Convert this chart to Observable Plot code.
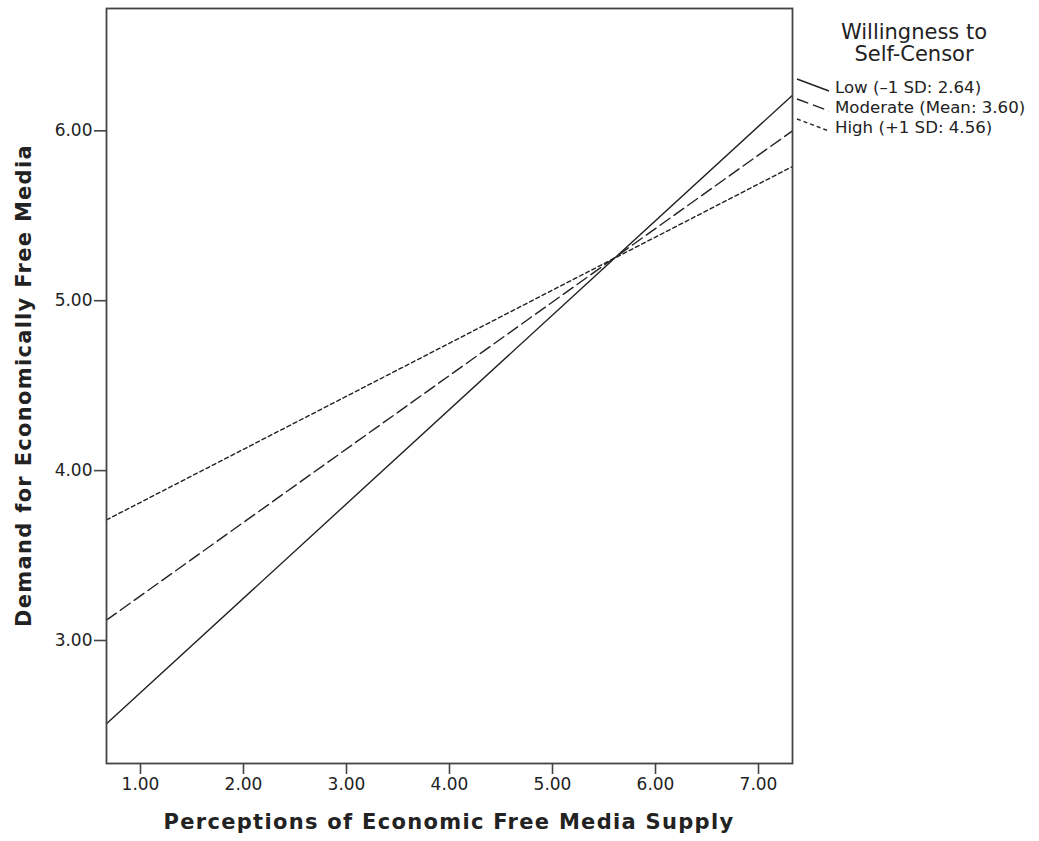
<!DOCTYPE html>
<html>
<head>
<meta charset="utf-8">
<script src="https://cdn.jsdelivr.net/npm/d3@7"></script>
<script src="https://cdn.jsdelivr.net/npm/@observablehq/plot@0.6"></script>
<style>
  html, body { margin: 0; padding: 0; background: #fff; }
  #chart { width: 1039px; height: 841px; }
</style>
</head>
<body>
<div id="chart"></div>
<script>
// Simple slopes: predicted demand at the low and high ends of perceived supply
const supply = [0.67, 7.33];
const lowCensor = [2.51, 6.21];
const moderateCensor = [3.12, 6.00];
const highCensor = [3.71, 5.79];

const seriesNames = ["Low (–1 SD: 2.64)", "Moderate (Mean: 3.60)", "High (+1 SD: 4.56)"];
const seriesDash = ["none", "12,5", "4,3"];
const legendTitle = ["Willingness to", "Self-Censor"];

const xTicks = [1, 2, 3, 4, 5, 6, 7];
const yTicks = [3, 4, 5, 6];
const yDomain = [2.276, 6.72];

const xTitle = "Perceptions of Economic Free Media Supply";
const yTitle = "Demand for Economically Free Media";

const seriesValues = [lowCensor, moderateCensor, highCensor];
const series = seriesNames.map((name, i) => ({
  name,
  dash: seriesDash[i],
  rows: supply.map((x, j) => ({x, y: seriesValues[i][j]}))
}));

const ink = "#222";
const axisInk = "#444";
const fmt = d3.format(".2f");

const plot = Plot.plot({
  width: 1039,
  height: 841,
  marginLeft: 106,
  marginRight: 247,
  marginTop: 8,
  marginBottom: 78,
  style: {fontFamily: "'DejaVu Sans', sans-serif", fontSize: "17px", color: ink, background: "#fff"},
  x: {domain: d3.extent(supply)},
  y: {domain: yDomain},
  marks: [
    ...series.map(s => Plot.line(s.rows, {
      x: "x", y: "y", stroke: ink, strokeWidth: 1.4, strokeDasharray: s.dash
    })),
    Plot.axisX(xTicks, {
      tickFormat: fmt, tickSize: 11, tickPadding: 3, stroke: axisInk,
      strokeWidth: 1.6, label: null, fill: ink, fontSize: 17
    }),
    Plot.axisY(yTicks, {
      tickFormat: fmt, tickSize: 12, tickPadding: 2, stroke: axisInk,
      strokeWidth: 1.6, label: null, fill: ink, fontSize: 17
    }),
    Plot.frame({stroke: axisInk, strokeWidth: 1.8})
  ]
});

document.getElementById("chart").appendChild(plot);

const svg = d3.select(plot);
const xs = plot.scale("x").range;
const ys = plot.scale("y").range;

// Axis titles
svg.append("text")
  .attr("x", (xs[0] + xs[1]) / 2)
  .attr("y", 829)
  .attr("text-anchor", "middle")
  .attr("font-weight", "bold")
  .attr("font-size", 21)
  .attr("letter-spacing", 1.3)
  .attr("fill", ink)
  .text(xTitle);

svg.append("text")
  .attr("transform", `translate(31,${(ys[0] + ys[1]) / 2}) rotate(-90)`)
  .attr("text-anchor", "middle")
  .attr("font-weight", "bold")
  .attr("font-size", 21)
  .attr("letter-spacing", 1.3)
  .attr("fill", ink)
  .text(yTitle);

// Legend to the right of the frame
const legend = svg.append("g").attr("fill", ink);
legendTitle.forEach((t, i) => {
  legend.append("text")
    .attr("x", 914)
    .attr("y", 39 + i * 22)
    .attr("text-anchor", "middle")
    .attr("font-size", 21)
    .text(t);
});
series.forEach((s, i) => {
  const base = 93 + i * 20;
  legend.append("line")
    .attr("x1", 797).attr("y1", base - 14)
    .attr("x2", 829).attr("y2", base - 2)
    .attr("stroke", ink)
    .attr("stroke-width", 1.4)
    .attr("stroke-dasharray", s.dash);
  legend.append("text")
    .attr("x", 835)
    .attr("y", base)
    .attr("text-anchor", "start")
    .attr("font-size", 16.6)
    .text(s.name);
});
</script>
</body>
</html>
